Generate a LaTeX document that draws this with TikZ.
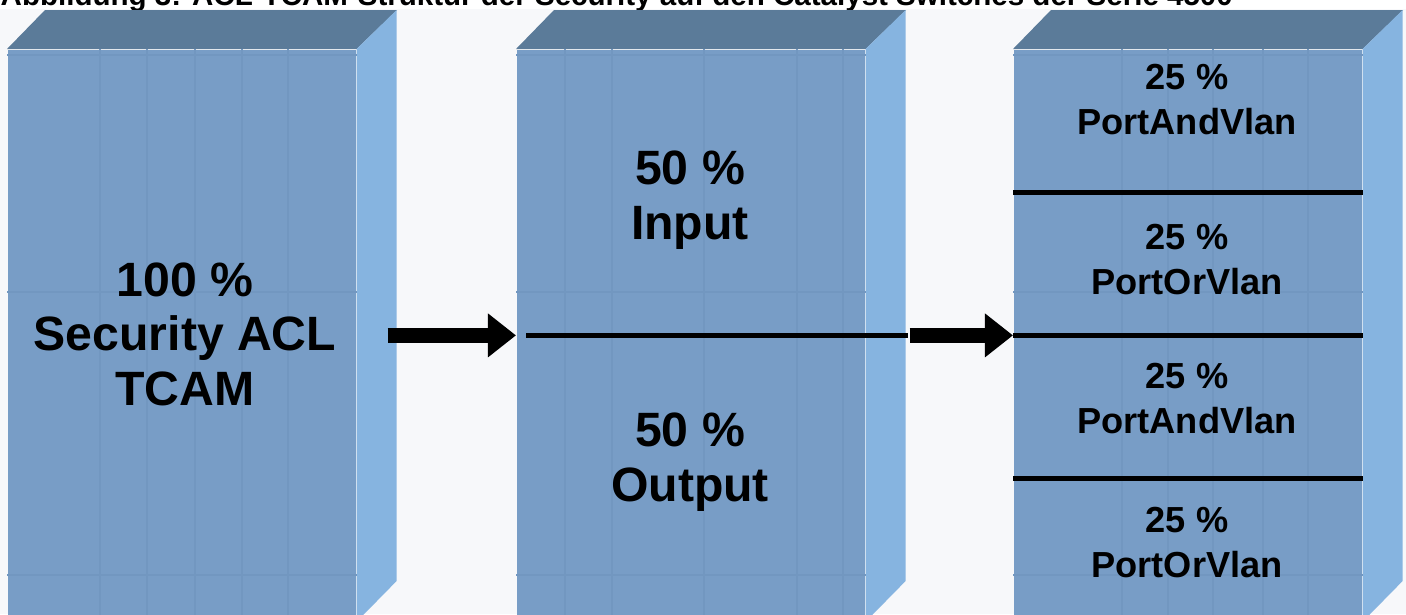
\documentclass[tikz,border=0pt]{standalone}
\usepackage{fontspec}
\setmainfont{Liberation Sans}
\usetikzlibrary{arrows.meta}
\usetikzlibrary{positioning}
\definecolor{bgback}{HTML}{F7F8FA}
\definecolor{boxfront}{HTML}{789DC6}
\definecolor{boxside}{HTML}{86B4E0}
\definecolor{boxtop}{HTML}{5B7B99}
\definecolor{boxgrid}{HTML}{7297C0}
\tikzset{frontface/.style = {fill=boxfront, inner sep = 0, minimum width = 3.48cm,
                             minimum height = 5.71cm, anchor = north west}}
\tikzset{sideface/.style = {fill=boxside}}
\tikzset{topface/.style = {fill=boxtop}}
\tikzset{gridline/.style = {draw=boxgrid, line width = 0.5pt}}
\tikzset{divider/.style = {line width = 1.5pt}}
\tikzset{bigarrow/.style = {line width = 4.3pt,
                            -{Triangle[length=0.28cm, width=0.42cm]}}}
\tikzset{biglabel/.style = {font=\bfseries\fontsize{13.7}{15.5}\selectfont, align = center}}
\tikzset{smalllabel/.style = {font=\bfseries\fontsize{10.3}{12.8}\selectfont, align = center}}

\begin{document}
\begin{tikzpicture}[x=0.01cm, y=-0.01cm]
      \useasboundingbox (0, 0) rectangle (1406, 614);
      \clip (0, 0) rectangle (1406, 614);
      \fill [white] (0, 0) rectangle (1406, 9);
      \fill [bgback] (0, 9) rectangle (1406, 614);
      \node [anchor = base west, inner sep = 0, font=\bfseries\fontsize{8.4}{10}\selectfont]
            (caption) at (0, 5.5)
            {Abbildung 3: ACL-TCAM-Struktur der Security auf den Catalyst Switches der Serie 4500};

      % the three memory blocks
      \node [frontface] (tcam) at (7, 49) {};
      \node [frontface] (io) at (516, 49) {};
      \node [frontface] (acl) at (1013, 49) {};
      \foreach \blk in {tcam, io, acl} {
        \fill [topface] (\blk.north west) -- ++(38, -39) -- ++(352, 0)
                        -- (\blk.north east) -- cycle;
        \fill [sideface] (\blk.north east) -- ++(40, -39) -- ++(0, 571)
                         -- (\blk.south east) -- cycle;
        \foreach \h in {6, 243, 526}
          \draw [gridline] ([yshift=-\h*0.01cm]\blk.north west) -- ([yshift=-\h*0.01cm]\blk.north east);
      }
      \foreach \v in {93, 140, 188, 235, 281}
        \draw [gridline] ([xshift=\v*0.01cm]tcam.north west) -- ([xshift=\v*0.01cm]tcam.south west);
      \foreach \v in {49, 96, 188, 281, 327}
        \draw [gridline] ([xshift=\v*0.01cm]io.north west) -- ([xshift=\v*0.01cm]io.south west);
      \foreach \v in {109, 155, 200, 250, 295}
        \draw [gridline] ([xshift=\v*0.01cm]acl.north west) -- ([xshift=\v*0.01cm]acl.south west);

      % splits
      \draw [divider] ([xshift=0.1cm]io.west) -- ([xshift=0.42cm]io.east);
      \draw [divider] (acl.west) -- (acl.east);
      \draw [divider] ([yshift=1.4275cm]acl.west) -- ([yshift=1.4275cm]acl.east);
      \draw [divider] ([yshift=-1.4275cm]acl.west) -- ([yshift=-1.4275cm]acl.east);

      \draw [bigarrow] ([xshift=0.31cm]tcam.east) -- (io.west);
      \draw [bigarrow] ([xshift=0.44cm]io.east) -- (acl.west);

      \node [biglabel] (whole) at (185, 334) {100 \%\\Security ACL\\TCAM};
      \node [biglabel] (input) at (690, 200) {50 \%\\Input};
      \node [biglabel] (output) at (690, 462) {50 \%\\Output};
      \node [smalllabel] (pav1) at (1187, 100) {25 \%\\PortAndVlan};
      \node [smalllabel] (pov1) at (1187, 260) {25 \%\\PortOrVlan};
      \node [smalllabel] (pav2) at (1187, 399) {25 \%\\PortAndVlan};
      \node [smalllabel] (pov2) at (1187, 543) {25 \%\\PortOrVlan};
    \end{tikzpicture}
\end{document}
